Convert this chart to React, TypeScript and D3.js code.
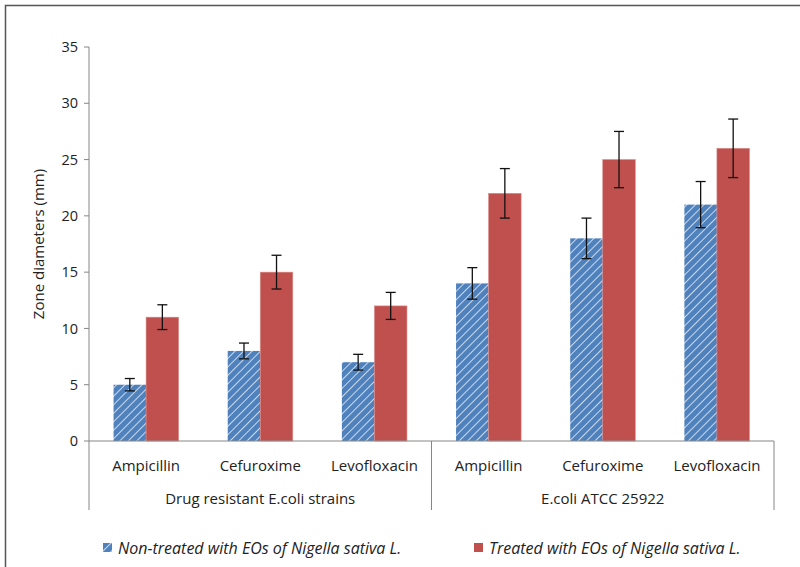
import React from "react";
import * as d3 from "d3";

const groups = ["Drug resistant E.coli strains", "E.coli ATCC 25922"];
const antibiotics = ["Ampicillin", "Cefuroxime", "Levofloxacin"];
const seriesNames = [
  "Non-treated with EOs of Nigella sativa L.",
  "Treated with EOs of Nigella sativa L.",
];
const nonTreated = [5, 8, 7, 14, 18, 21];
const nonTreatedErr = [0.55, 0.7, 0.7, 1.4, 1.8, 2.05];
const treated = [11, 15, 12, 22, 25, 26];
const treatedErr = [1.1, 1.5, 1.2, 2.2, 2.5, 2.6];
const yTicks = [0, 5, 10, 15, 20, 25, 30, 35];

const W = 800;
const H = 567;
const left = 89;
const right = 774;
const top = 47;
const bottom = 441;
const FONT = "'Open Sans', 'Noto Sans', sans-serif";

export default function App() {
  const cats = groups.flatMap((g, gi) => antibiotics.map((a) => `${gi}-${a}`));
  const x0 = d3.scaleBand<string>().domain(cats).range([left, right]).paddingInner(0.43).paddingOuter(0.215);
  const x1 = d3.scaleBand<string>().domain(["a", "b"]).range([0, x0.bandwidth()]);
  const y = d3.scaleLinear().domain([0, 35]).range([bottom, top]);
  const step = x0.step();
  const blue = "#4F81BD";
  const red = "#C0504D";
  const axisColor = "#868686";

  const bars = [
    { key: "a", vals: nonTreated, errs: nonTreatedErr, fill: "url(#hatch)" },
    { key: "b", vals: treated, errs: treatedErr, fill: red },
  ];

  return (
    <svg width={W} height={H} style={{ position: "absolute", left: 0, top: 0 }} fontFamily={FONT}>
      <defs>
        <pattern id="hatch" patternUnits="userSpaceOnUse" width={6} height={6} patternTransform="rotate(45)">
          <rect width={6} height={6} fill={blue} />
          <line x1={0} y1={0} x2={0} y2={6} stroke="#ffffff" strokeWidth={1.4} />
        </pattern>
      </defs>
      <rect x={0} y={0} width={W} height={H} fill="#fff" />
      <path d={`M5.5,${H} V5.5 H${W}`} fill="none" stroke="#555" strokeWidth={1.5} />

      {/* bars */}
      {bars.map((s) =>
        s.vals.map((v, i) => {
          const bx = (x0(cats[i]) as number) + (x1(s.key) as number);
          return (
            <rect key={s.key + i} x={bx} y={y(v)} width={x1.bandwidth()} height={y(0) - y(v)} fill={s.fill}
              stroke={s.key === "b" ? "#d88a88" : "none"} strokeWidth={0.6} />
          );
        })
      )}

      {/* y axis */}
      <line x1={left} x2={left} y1={top} y2={bottom} stroke={axisColor} />
      {yTicks.map((t) => (
        <g key={t}>
          <line x1={left - 5} x2={left} y1={y(t)} y2={y(t)} stroke={axisColor} />
          <text x={left - 11} y={y(t)} dy="0.35em" textAnchor="end" fontSize={14.5} fill="#222">{t}</text>
        </g>
      ))}
      <text transform={`translate(44,${(top + bottom) / 2}) rotate(-90)`} textAnchor="middle" fontSize={15} fill="#222">
        Zone diameters (mm)
      </text>

      {/* x axis */}
      <line x1={left} x2={right} y1={bottom} y2={bottom} stroke={axisColor} />
      {[0, 3, 6].map((k) => (
        <line key={k} x1={left + k * step} x2={left + k * step} y1={bottom} y2={510} stroke={axisColor} />
      ))}
      {cats.map((c, i) => (
        <text key={c} x={(x0(c) as number) + x0.bandwidth() / 2} y={466} dy="0.35em" textAnchor="middle" fontSize={15} fill="#222">
          {antibiotics[i % 3]}
        </text>
      ))}
      {groups.map((g, gi) => (
        <text key={g} x={left + (gi * 3 + 1.5) * step} y={499} dy="0.35em" textAnchor="middle" fontSize={15} fill="#222">
          {g}
        </text>
      ))}

      {/* error bars */}
      {bars.map((s) =>
        s.vals.map((v, i) => {
          const cx = (x0(cats[i]) as number) + (x1(s.key) as number) + x1.bandwidth() / 2;
          const e = s.errs[i];
          return (
            <g key={"e" + s.key + i} stroke="#111" strokeWidth={1.3}>
              <line x1={cx} x2={cx} y1={y(v + e)} y2={y(v - e)} />
              <line x1={cx - 5} x2={cx + 5} y1={y(v + e)} y2={y(v + e)} />
              <line x1={cx - 5} x2={cx + 5} y1={y(v - e)} y2={y(v - e)} />
            </g>
          );
        })
      )}

      {/* legend */}
      <rect x={103} y={543} width={9} height={9} fill="url(#hatch)" />
      <text x={118} y={548} dy="0.35em" fontSize={16} fontStyle="italic" fill="#222">{seriesNames[0]}</text>
      <rect x={474} y={543} width={9} height={9} fill={red} />
      <text x={489} y={548} dy="0.35em" fontSize={16} fontStyle="italic" fill="#222">{seriesNames[1]}</text>
    </svg>
  );
}
